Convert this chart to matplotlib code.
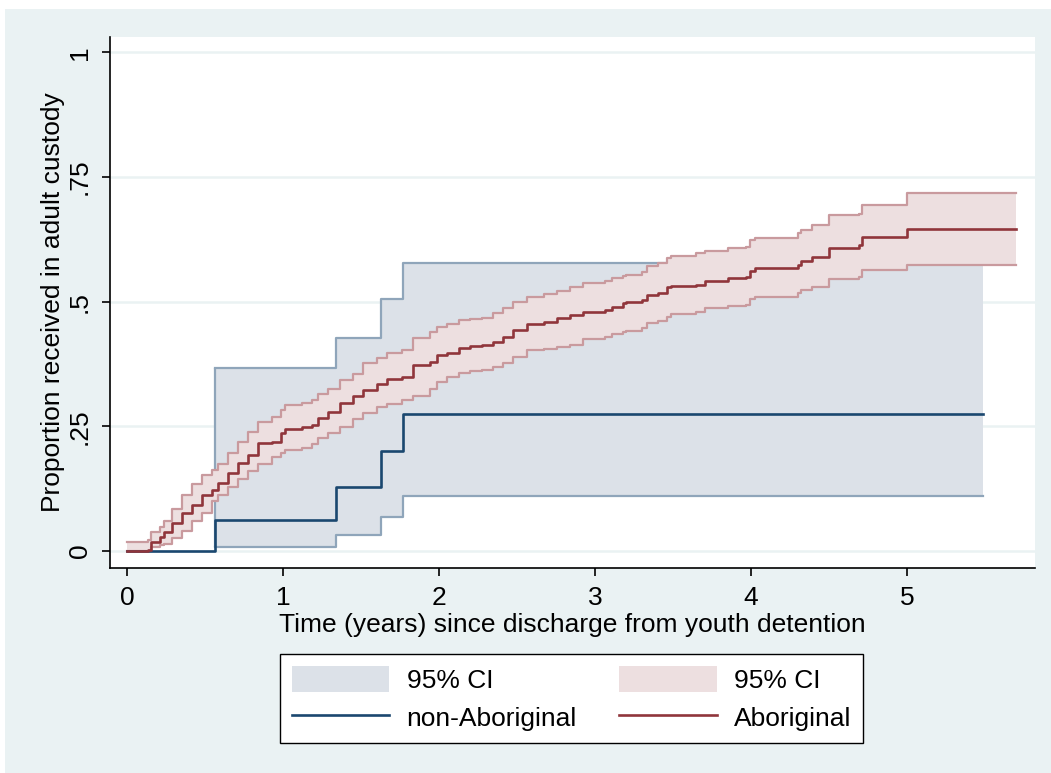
import numpy as np
import matplotlib
matplotlib.use("Agg")
import matplotlib.pyplot as plt
from matplotlib.patches import Patch, Rectangle
from matplotlib.lines import Line2D

plt.rcParams['font.family'] = ['Liberation Sans', 'DejaVu Sans']

# Kaplan-Meier failure estimates, non-Aboriginal group
nab_t = [0.0, 0.564, 1.340, 1.626, 1.771]
nab_s = [0.0, 0.0625, 0.129, 0.200, 0.274]
nab_ci_t = [0.564, 1.340, 1.626, 1.771]
nab_lo = [0.009, 0.033, 0.069, 0.111]
nab_hi = [0.367, 0.427, 0.506, 0.577]
nab_end = 5.487

# Aboriginal group: step times, estimate and 95% CI bounds
ab_t = [0.0, 0.137, 0.154, 0.21, 0.24, 0.29, 0.35, 0.415, 0.48, 0.543,
        0.585, 0.65, 0.713, 0.778, 0.842, 0.927, 0.99, 1.013, 1.12, 1.184,
        1.226, 1.29, 1.365, 1.45, 1.515, 1.6, 1.665, 1.76, 1.836, 1.942,
        1.985, 2.05, 2.125, 2.2, 2.274, 2.349, 2.413, 2.476, 2.562, 2.67,
        2.755, 2.84, 2.925, 3.064, 3.107, 3.182, 3.2, 3.3, 3.33, 3.406,
        3.464, 3.49, 3.65, 3.705, 3.855, 3.97, 3.994, 4.026, 4.30, 4.318,
        4.388, 4.50, 4.69, 4.71, 5.0]
ab_s = [0.0, 0.003, 0.019, 0.029, 0.039, 0.056, 0.076, 0.092, 0.112, 0.122,
        0.136, 0.156, 0.176, 0.193, 0.216, 0.219, 0.236, 0.244, 0.249, 0.253,
        0.266, 0.279, 0.296, 0.31, 0.323, 0.336, 0.346, 0.35, 0.373, 0.38,
        0.393, 0.397, 0.407, 0.411, 0.413, 0.42, 0.43, 0.443, 0.455, 0.46,
        0.467, 0.473, 0.48, 0.483, 0.49, 0.497, 0.5, 0.503, 0.514, 0.518,
        0.529, 0.532, 0.534, 0.542, 0.548, 0.55, 0.562, 0.567, 0.574, 0.582,
        0.589, 0.607, 0.614, 0.629, 0.645]
ab_hi = [0.019, 0.022, 0.039, 0.049, 0.06, 0.085, 0.112, 0.135, 0.152, 0.162,
         0.175, 0.196, 0.219, 0.238, 0.258, 0.268, 0.282, 0.293, 0.296, 0.302,
         0.315, 0.326, 0.343, 0.356, 0.377, 0.388, 0.397, 0.403, 0.427, 0.44,
         0.45, 0.455, 0.463, 0.466, 0.468, 0.477, 0.488, 0.5, 0.51, 0.516,
         0.522, 0.53, 0.537, 0.542, 0.547, 0.552, 0.554, 0.56, 0.572, 0.578,
         0.587, 0.592, 0.597, 0.602, 0.607, 0.61, 0.624, 0.628, 0.637, 0.644,
         0.654, 0.673, 0.677, 0.695, 0.718]
ab_lo = [0.0, 0.001, 0.009, 0.012, 0.015, 0.026, 0.04, 0.06, 0.076, 0.1,
         0.112, 0.129, 0.144, 0.16, 0.175, 0.189, 0.196, 0.203, 0.206, 0.215,
         0.226, 0.236, 0.249, 0.265, 0.277, 0.288, 0.294, 0.302, 0.31, 0.326,
         0.34, 0.35, 0.358, 0.361, 0.363, 0.37, 0.378, 0.39, 0.403, 0.405,
         0.409, 0.413, 0.425, 0.43, 0.435, 0.44, 0.442, 0.447, 0.457, 0.462,
         0.47, 0.475, 0.48, 0.487, 0.491, 0.493, 0.505, 0.509, 0.517, 0.524,
         0.53, 0.545, 0.55, 0.564, 0.574]
ab_end = 5.70

y_ticks = [0, 0.25, 0.5, 0.75, 1]
y_tick_labels = ["0", ".25", ".5", ".75", "1"]
x_ticks = [0, 1, 2, 3, 4, 5]


def extend(t, v, end):
    # carry the last value out to the end of follow-up
    return np.append(t, end), np.append(v, v[-1])


bg = "#EAF2F3"
blue = "#1A476F"
blue_fill = "#DCE1E8"
blue_edge = "#8FA5BA"
red = "#90353B"
red_fill = "#EDDFE0"
red_edge = "#C99A9E"
fs = 19

fig = plt.figure(figsize=(10.51, 7.73), dpi=100, facecolor=bg)
# thin white margin along the top and left edges
fig.patches.append(Rectangle((0, 1 - 9 / 773), 1, 9 / 773, transform=fig.transFigure,
                             facecolor="white", edgecolor="none", zorder=0))
fig.patches.append(Rectangle((0, 0), 5 / 1051, 1, transform=fig.transFigure,
                             facecolor="white", edgecolor="none", zorder=0))

ax = fig.add_axes([110 / 1051, (773 - 568) / 773, (1035 - 110) / 1051, (568 - 37) / 773])
ax.set_facecolor("white")

# non-Aboriginal CI band
x, lo = extend(nab_ci_t, nab_lo, nab_end)
_, hi = extend(nab_ci_t, nab_hi, nab_end)
ax.fill_between(x, lo, hi, step="post", facecolor=blue_fill, edgecolor="none", zorder=2)
ax.step(x, lo, where="post", color=blue_edge, lw=1.6, zorder=2.1)
ax.step(x, hi, where="post", color=blue_edge, lw=1.6, zorder=2.1)
ax.vlines(nab_ci_t[0], lo[0], hi[0], color=blue_edge, lw=1.6, zorder=2.1)

# Aboriginal CI band
x, lo = extend(ab_t, ab_lo, ab_end)
_, hi = extend(ab_t, ab_hi, ab_end)
ax.fill_between(x, lo, hi, step="post", facecolor=red_fill, edgecolor="none", zorder=3)
ax.step(x, lo, where="post", color=red_edge, lw=1.6, zorder=3.1)
ax.step(x, hi, where="post", color=red_edge, lw=1.6, zorder=3.1)

# point estimates
x, s = extend(nab_t, nab_s, nab_end)
ax.step(x, s, where="post", color=blue, lw=1.9, zorder=4)
x, s = extend(ab_t, ab_s, ab_end)
ax.step(x, s, where="post", color=red, lw=1.9, zorder=4)

ax.set_xlim(-0.109, 5.82)
ax.set_ylim(-0.034, 1.031)
ax.set_xticks(x_ticks)
ax.set_yticks(y_ticks)
ax.set_yticklabels(y_tick_labels, rotation=90, va="center")
ax.tick_params(axis="both", labelsize=fs, length=6, width=1.2, color="black")
ax.tick_params(axis="x", pad=7)
ax.tick_params(axis="y", pad=7)
ax.grid(axis="y", color=bg, lw=1.8, zorder=1)
ax.set_axisbelow(True)
for side in ("top", "right"):
    ax.spines[side].set_visible(False)
for side in ("left", "bottom"):
    ax.spines[side].set_linewidth(1.2)

ax.set_xlabel("Time (years) since discharge from youth detention", fontsize=fs, labelpad=2)
ax.set_ylabel("Proportion received in adult custody", fontsize=fs, labelpad=2)

handles = [Patch(facecolor=blue_fill, edgecolor="none"),
           Line2D([], [], color=blue, lw=1.9),
           Patch(facecolor=red_fill, edgecolor="none"),
           Line2D([], [], color=red, lw=1.9)]
labels = ["95% CI", "non-Aboriginal", "95% CI", "Aboriginal"]
leg = fig.legend(handles, labels, ncol=2, loc="center",
                 bbox_to_anchor=(571.5 / 1051, 74.5 / 773), fontsize=fs,
                 frameon=True, fancybox=False, edgecolor="black", framealpha=1,
                 handlelength=3.7, handleheight=1.15, handletextpad=0.65,
                 columnspacing=1.6, labelspacing=0.4, borderpad=0.45)
leg.get_frame().set_linewidth(1.0)

fig.savefig("out.png", dpi=100, facecolor=fig.get_facecolor())
